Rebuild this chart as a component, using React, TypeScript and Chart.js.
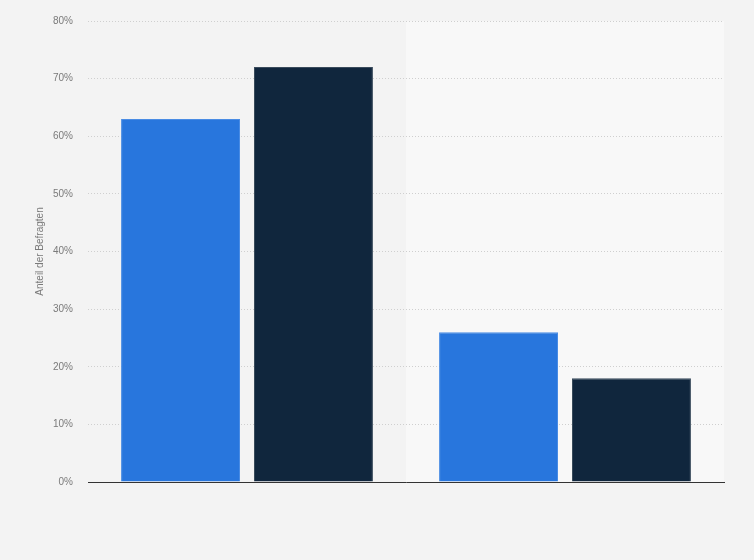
import { useEffect, useRef } from "react"
import { Chart, registerables } from "chart.js"

Chart.register(...registerables)

const categories = ["", ""]
const seriesBlue = [63, 26]
const seriesDark = [72, 18]
const yTicks = [0, 10, 20, 30, 40, 50, 60, 70, 80]

// light background for the second category band
const bandPlugin = {
  id: "bands",
  beforeDraw(chart: any) {
    const { ctx, chartArea, scales } = chart
    ctx.save()
    ctx.fillStyle = "#f3f3f3"
    ctx.fillRect(0, 0, chart.width, chart.height)
    const x = scales.x
    const mid = (x.getPixelForValue(0) + x.getPixelForValue(1)) / 2
    ctx.fillStyle = "#f8f8f8"
    ctx.fillRect(mid, chartArea.top, chartArea.right - mid, chartArea.bottom - chartArea.top)
    ctx.restore()
  },
}

export default function App() {
  const chartRef = useRef<HTMLCanvasElement>(null)
  const chartInstance = useRef<Chart | null>(null)

  useEffect(() => {
    document.body.style.margin = "0"
    if (!chartRef.current) return
    const ctx = chartRef.current.getContext("2d")
    if (!ctx) return

    chartInstance.current = new Chart(ctx, {
      type: "bar",
      data: {
        labels: categories,
        datasets: [
          {
            label: "A",
            data: seriesBlue,
            backgroundColor: "#2876dd",
            borderColor: "#4a8ce4",
            borderWidth: 1,
            barPercentage: 0.895,
            categoryPercentage: 0.836,
          },
          {
            label: "B",
            data: seriesDark,
            backgroundColor: "#10263d",
            borderColor: "#3a4b5c",
            borderWidth: 1,
            barPercentage: 0.895,
            categoryPercentage: 0.836,
          },
        ],
      },
      options: {
        animation: false,
        responsive: true,
        maintainAspectRatio: false,
        layout: { padding: { left: 30, right: 30, top: 20, bottom: 70 } },
        plugins: {
          legend: { display: false },
          tooltip: { enabled: false },
        },
        scales: {
          x: {
            grid: { display: false },
            ticks: { display: false },
            border: { color: "#333333", width: 1 },
          },
          y: {
            min: 0,
            max: 80,
            afterFit: (scale: any) => {
              scale.width = 58
            },
            afterBuildTicks: (scale: any) => {
              scale.ticks = yTicks.map((v) => ({ value: v }))
            },
            ticks: {
              padding: 15,
              color: "#7a7a7a",
              font: { family: "'Liberation Sans', Arial, sans-serif", size: 10 },
              callback: (v: any) => `${v}%`,
            },
            grid: {
              drawTicks: false,
              color: "#cfcfcf",
            },
            border: { display: false, dash: [1, 2] },
            title: {
              display: true,
              text: "Anteil der Befragten",
              color: "#7a7a7a",
              font: { family: "'Liberation Sans', Arial, sans-serif", size: 10 },
              padding: 4,
            },
          },
        },
      },
      plugins: [bandPlugin],
    })

    return () => {
      if (chartInstance.current) {
        chartInstance.current.destroy()
      }
    }
  }, [])

  return (
    <div style={{ width: 754, height: 560, position: "relative" }}>
      <canvas ref={chartRef} />
    </div>
  )
}
